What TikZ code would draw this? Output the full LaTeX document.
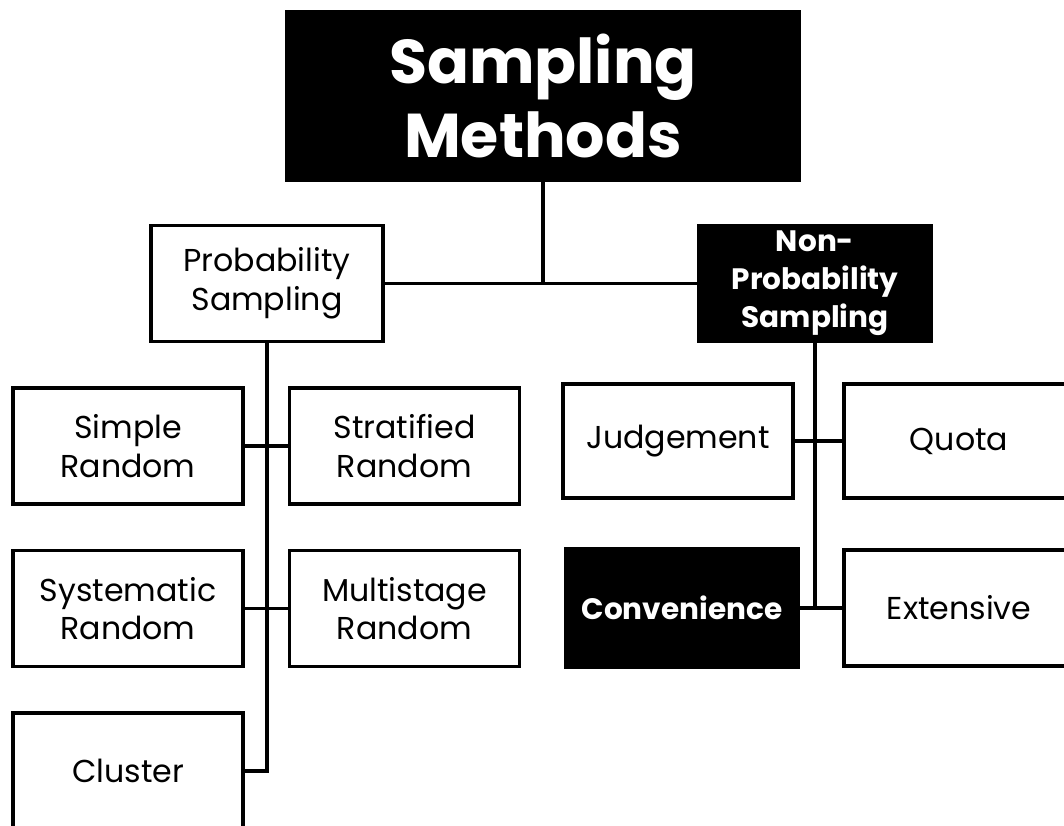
\documentclass[tikz,border=0pt]{standalone}
\usepackage{fontspec}
\setmainfont{Poppins}
\usetikzlibrary{positioning}

\begin{document}
\begin{tikzpicture}[x=0.025cm, y=-0.025cm,
    leaf/.style={draw=black, line width=2.2pt, fill=white, minimum width=5.75cm,
                 minimum height=2.9cm, inner sep=0pt, align=center,
                 font=\fontsize{22.5}{27.5}\selectfont},
    dark/.style={leaf, fill=black, text=white, font=\fontsize{21}{27}\selectfont\bfseries},
    link/.style={line width=2.2pt},
]
    \useasboundingbox (0, 0) rectangle (1064, 826);

    \node[dark, minimum width=12.8cm, minimum height=4.2cm,
          font=\fontsize{44}{52}\selectfont\bfseries] (head) at (543, 96) {Sampling\\Methods};

    \node[leaf, minimum width=5.8cm] (prob) at (267, 283.5) {Probability\\Sampling};
    \node[dark, minimum width=5.8cm] (nonprob) at (815, 283.5) {Non-\\Probability\\Sampling};

    % probability side
    \node[leaf] (simple) at (128, 446) {Simple\\Random};
    \node[leaf] (strat) at (404.5, 446) {Stratified\\Random};
    \node[leaf] (syst) at (128, 608.5) {Systematic\\Random};
    \node[leaf] (multi) at (404.5, 608.5) {Multistage\\Random};
    \node[leaf] (cluster) at (128, 771) {Cluster};

    % non-probability side
    \node[leaf, minimum height=2.85cm] (judge) at (678, 441) {Judgement};
    \node[leaf, minimum height=2.85cm] (quota) at (959, 441) {Quota};
    \node[dark, minimum width=5.8cm, minimum height=2.95cm] (conv) at (682, 608) {Convenience};
    \node[leaf] (ext) at (959, 608) {Extensive};

    \draw[link] (head.south) -- (head.south |- prob.east);
    \draw[link] (prob.east) -- (nonprob.west);

    \draw[link] (prob.south) -- (prob.south |- cluster.east) -- (cluster.east);
    \draw[link] (simple.east) -- (strat.west);
    \draw[link] (syst.east) -- (multi.west);

    \draw[link] (nonprob.south) -- (nonprob.south |- conv.east) -- (conv.east);
    \draw[link] (judge.east) -- (quota.west);
    \draw[link] (conv.east) -- (ext.west);
\end{tikzpicture}
\end{document}
